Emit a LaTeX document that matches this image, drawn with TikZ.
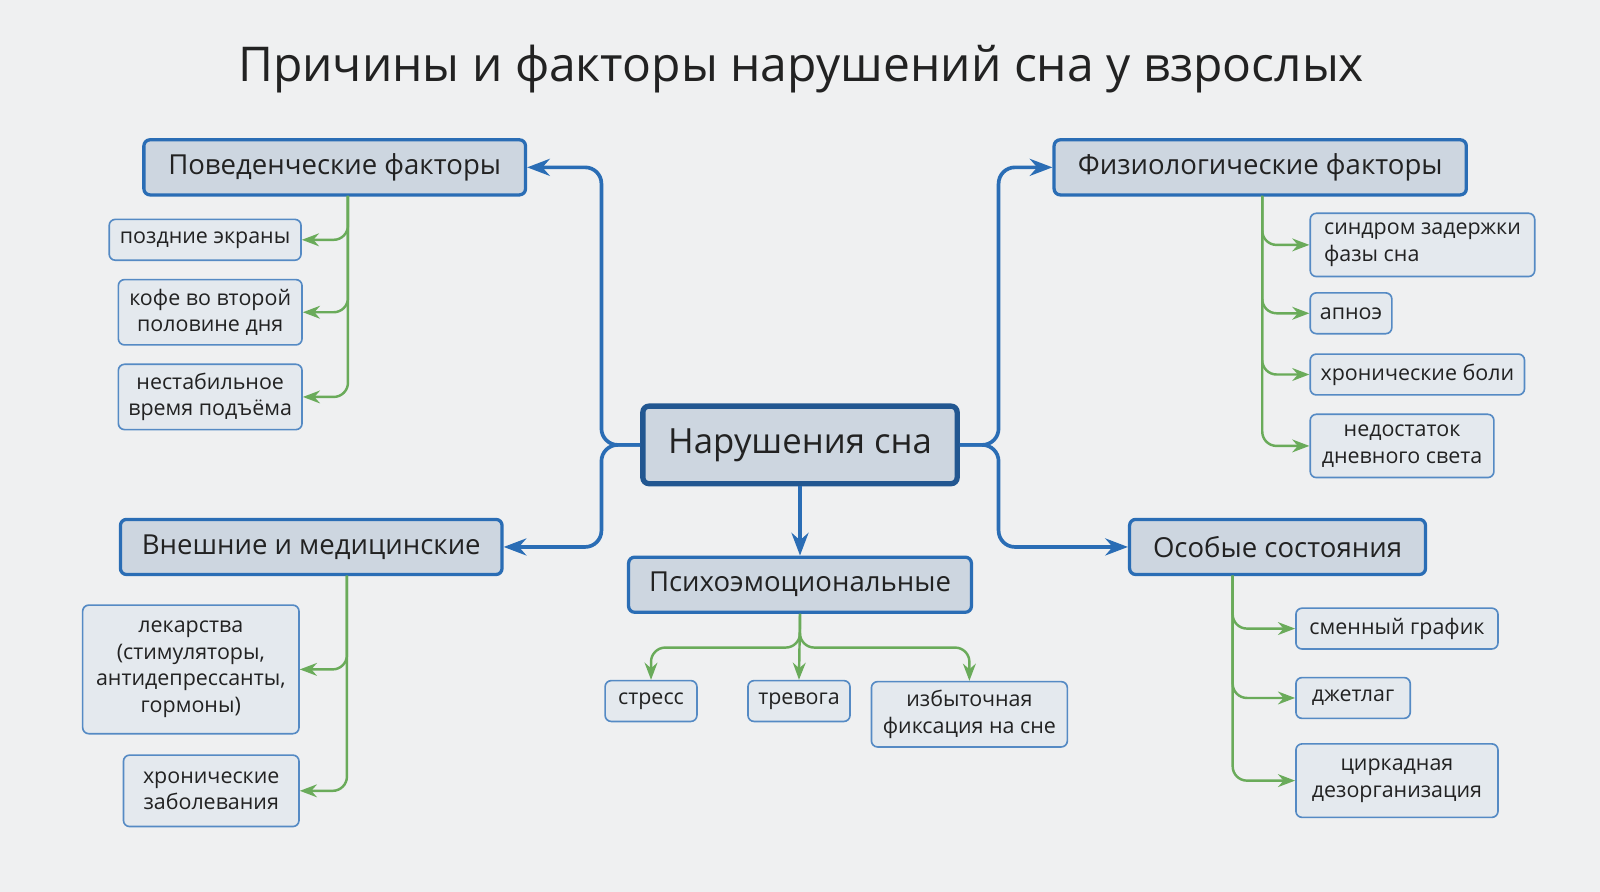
\documentclass[tikz,border=0pt]{standalone}
\usepackage{fontspec}
\setmainfont{Open Sans}
\usetikzlibrary{arrows.meta}
\definecolor{bgc}{HTML}{EFF0F1}
\definecolor{blu}{HTML}{2A6DB5}
\definecolor{grn}{HTML}{6AAB5A}
\definecolor{catfill}{HTML}{CDD6E0}
\definecolor{leaffill}{HTML}{E4E9EE}
\definecolor{txt}{HTML}{222222}
\begin{document}
\begin{tikzpicture}[x=0.5pt, y=-0.5pt, >=Stealth, text=txt,
    main/.style = {draw=blu!80!black, line width=2.6pt, fill=catfill, rounded corners=3pt,
                   font=\fontsize{17}{20}\selectfont, minimum height=38pt},
    cat/.style = {draw=blu, line width=1.6pt, fill=catfill, rounded corners=3pt,
                  font=\fontsize{13.5}{16}\selectfont, minimum height=27pt},
    leaf/.style = {draw=blu!80, line width=0.8pt, fill=leaffill, rounded corners=3pt,
                   font=\fontsize{10.5}{13}\selectfont, align=center, inner sep=3pt, minimum height=20pt},
    bl/.style = {->, draw=blu, line width=1.8pt, rounded corners=8pt},
    gr/.style = {->, draw=grn, line width=1.2pt, rounded corners=7pt}]
    % Background and title
    \fill[bgc] (0,0) rectangle (1568,874);
    \useasboundingbox (0,0) rectangle (1568,874);
    \node (title) at (785,68) {\fontsize{23.5}{26}\selectfont Причины и факторы нарушений сна у взрослых};

    % Main and categories
    \node[main, minimum width=154pt] (sleep) at (784,436) {Нарушения сна};
    \node[cat, minimum width=187pt] (beh) at (328,164) {Поведенческие факторы};
    \node[cat, minimum width=202pt] (phys) at (1235,164) {Физиологические факторы};
    \node[cat, minimum width=187pt] (ext) at (305,536) {Внешние и медицинские};
    \node[cat, minimum width=145pt] (spec) at (1252,536) {Особые состояния};
    \node[cat, minimum width=168pt] (psy) at (784,573) {Психоэмоциональные};

    % Leaves
    \node[leaf, minimum width=94pt] (screens) at (201,235) {поздние экраны};
    \node[leaf, minimum width=90pt, minimum height=32pt] (coffee) at (206,306) {кофе во второй\\половине дня};
    \node[leaf, minimum width=90pt, minimum height=32pt] (wake) at (206,389) {нестабильное\\время подъёма};
    \node[leaf, minimum width=110pt, minimum height=31pt, align=left] (dsps) at (1394,240) {синдром задержки\\фазы сна};
    \node[leaf, minimum width=40pt] (apnea) at (1324,307) {апноэ};
    \node[leaf, minimum width=105pt] (pain) at (1389,367) {хронические боли};
    \node[leaf, minimum width=90pt, minimum height=31pt] (light) at (1374,437) {недостаток\\дневного света};
    \node[leaf, minimum width=106pt, minimum height=63pt] (drugs) at (187,656) {лекарства\\(стимуляторы,\\антидепрессанты,\\гормоны)};
    \node[leaf, minimum width=86pt, minimum height=35pt] (chronic) at (207,775) {хронические\\заболевания};
    \node[leaf, minimum width=99pt] (shift) at (1369,616) {сменный график};
    \node[leaf, minimum width=56pt] (jet) at (1326,684) {джетлаг};
    \node[leaf, minimum width=99pt, minimum height=36pt] (circ) at (1369,765) {циркадная\\дезорганизация};
    \node[leaf, minimum width=45pt] (stress) at (638,687) {стресс};
    \node[leaf, minimum width=50pt] (anx) at (783,687) {тревога};
    \node[leaf, minimum width=96pt, minimum height=32pt] (fix) at (950,700) {избыточная\\фиксация на сне};

    % Blue edges
    \draw[bl] (sleep.west) -- ++(-38,0) |- (beh.east);
    \draw[bl] (sleep.west) -- ++(-38,0) |- (ext.east);
    \draw[bl] (sleep.east) -- ++(38,0) |- (phys.west);
    \draw[bl] (sleep.east) -- ++(38,0) |- (spec.west);
    \draw[bl] (sleep.south) -- (psy.north);

    % Green edges
    \coordinate (bt) at (341,192);
    \coordinate (pt) at (1237,192);
    \coordinate (et) at (340,564);
    \coordinate (st) at (1208,564);
    \foreach \n in {screens, coffee, wake} \draw[gr] (bt) |- (\n.east);
    \foreach \n in {dsps, apnea, pain, light} \draw[gr] (pt) |- (\n.west);
    \foreach \n in {drugs, chronic} \draw[gr] (et) |- (\n.east);
    \foreach \n in {shift, jet, circ} \draw[gr] (st) |- (\n.west);
    \draw[gr] (psy.south) -- ++(0,33) -| (stress.north);
    \draw[gr] (psy.south) -- (anx.north);
    \draw[gr] (psy.south) -- ++(0,33) -| (fix.north);
\end{tikzpicture}
\end{document}
